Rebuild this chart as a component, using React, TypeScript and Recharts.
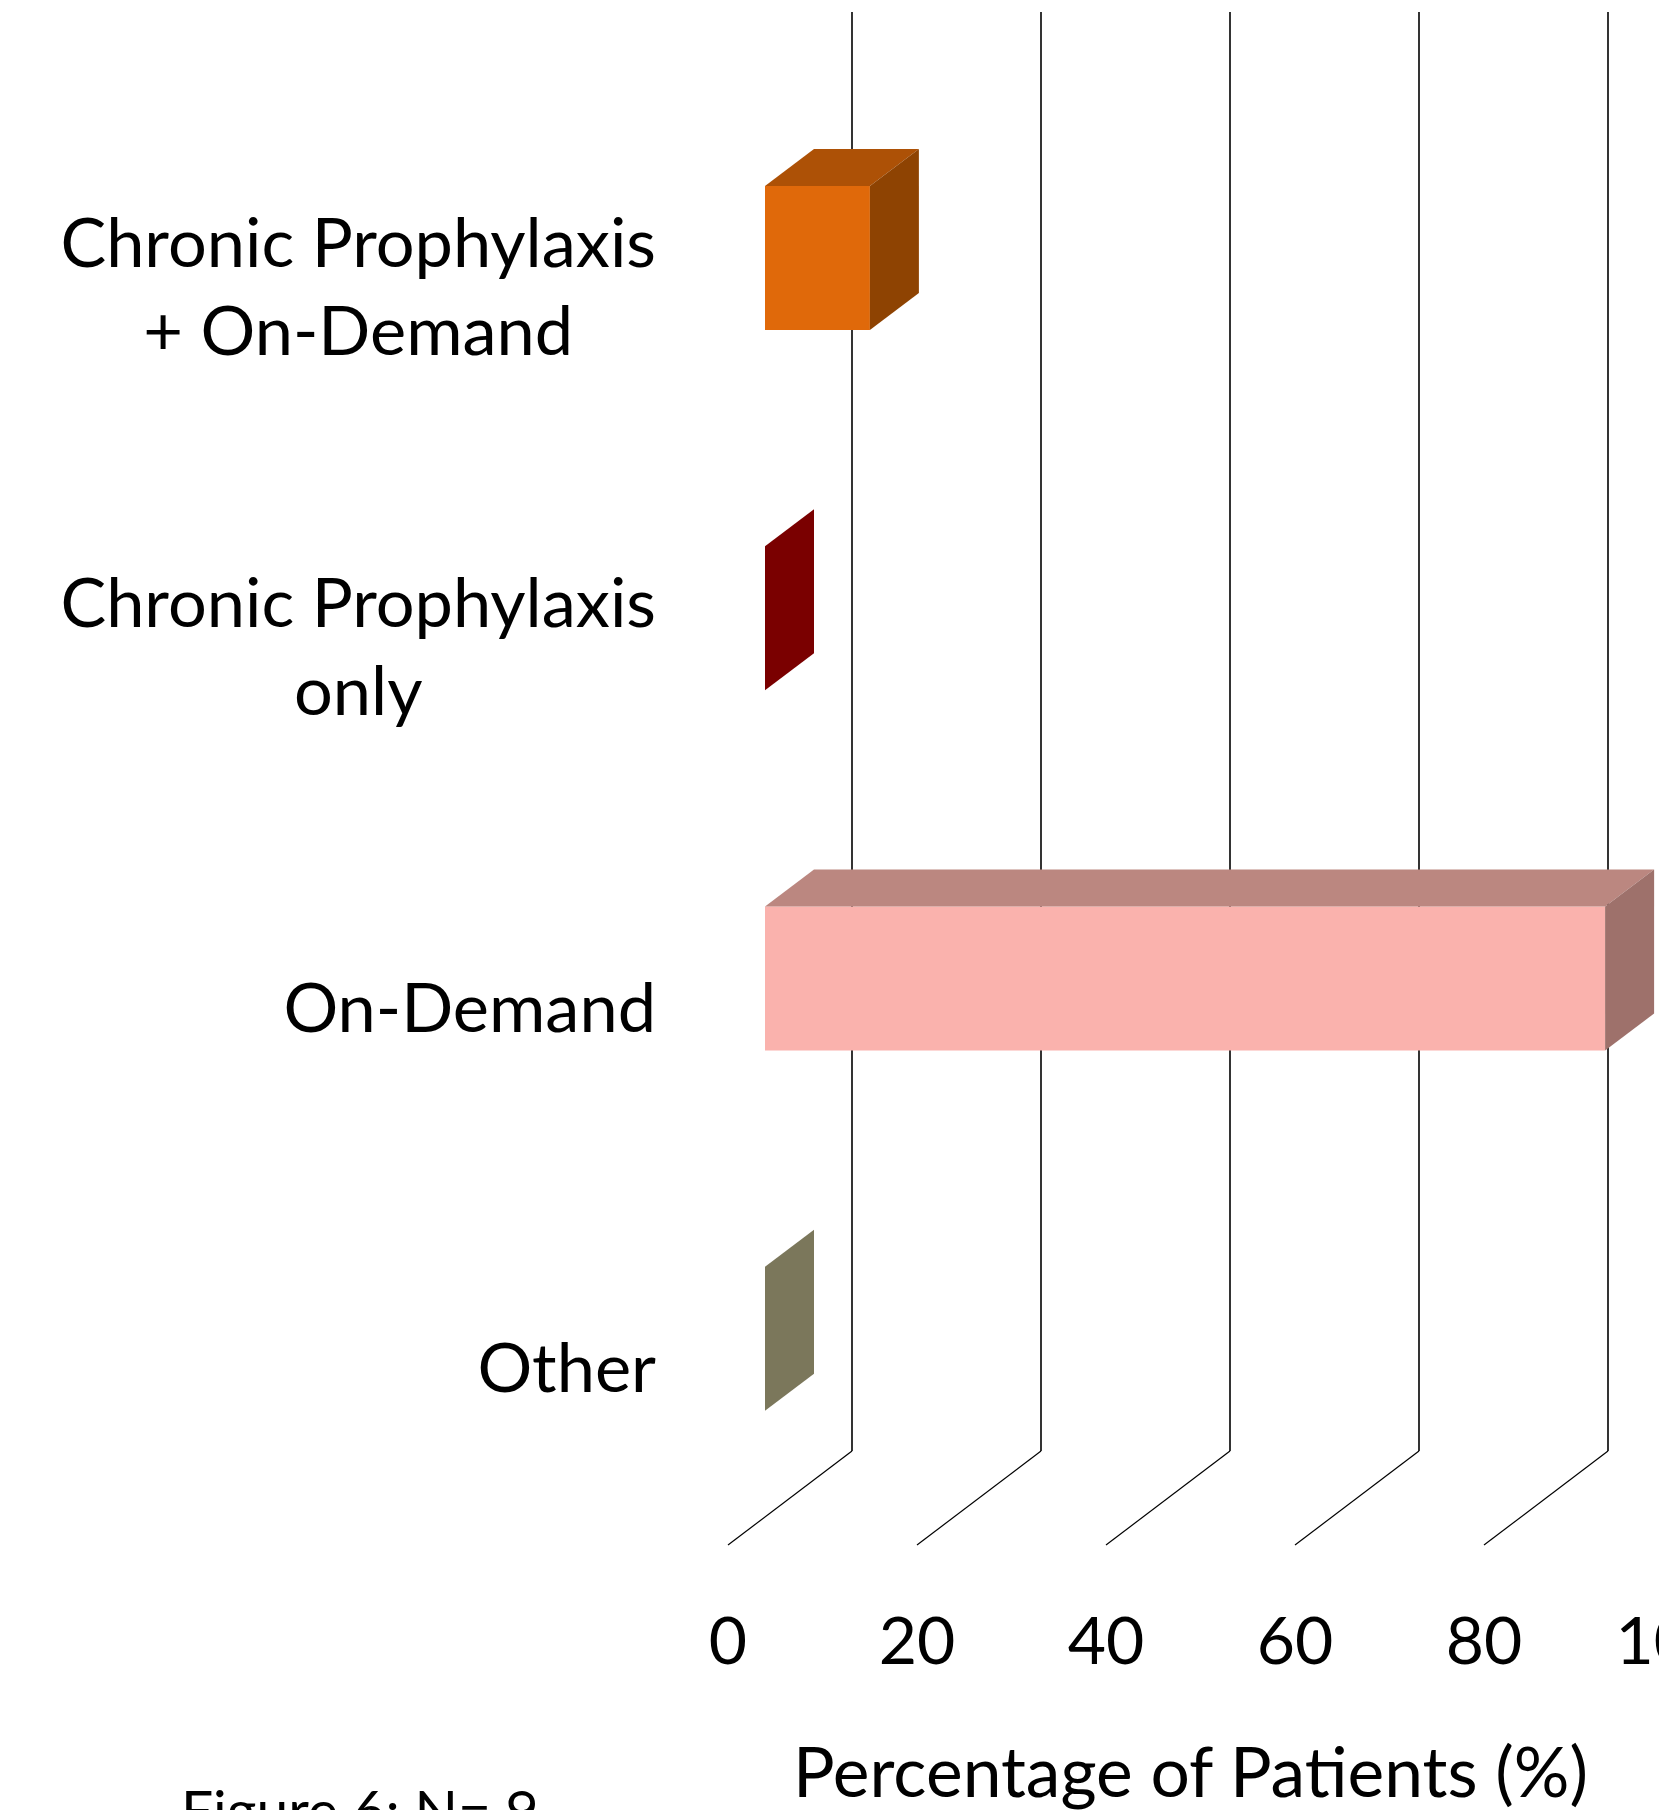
import { Bar, BarChart, CartesianGrid, Label, XAxis, YAxis } from "recharts";

const categories = [
	"Chronic Prophylaxis\n+ On-Demand",
	"Chronic Prophylaxis\nonly",
	"On-Demand",
	"Other",
];
const percentages = [11.1, 0, 88.9, 0];
const xTicks = [0, 20, 40, 60, 80, 100];

const frontColors = ["#E0690A", "#7A0000", "#FAB2AD", "#7B775B"];
const topColors = ["#AD5106", "#5C0000", "#BB8780", "#5C5944"];
const sideColors = ["#8E4302", "#7A0000", "#9E716B", "#7B775B"];

const FONT = "Lato, 'Open Sans', sans-serif";
const LABEL_SIZE = 68.5;
const TITLE_SIZE = 69.5;
const TICK_SIZE = 66;

// bar depth (front face -> back face)
const DEPTH_X = 49;
const DEPTH_Y = -37;
// floor line ends, relative to a tick position at bar-front depth
const FLOOR_FRONT_X = -37;
const FLOOR_FRONT_Y = 26;
const FLOOR_BACK_X = 87;
const FLOOR_BACK_Y = -68;

const data = categories.map((category, i) => ({
	category,
	value: percentages[i],
}));

let ctx: CanvasRenderingContext2D | null = null;
function measure(text: string, size: number) {
	if (!ctx) ctx = document.createElement("canvas").getContext("2d");
	if (!ctx) return text.length * size * 0.5;
	ctx.font = `${size}px Lato`;
	return ctx.measureText(text).width;
}

function Bar3D(props: any) {
	const { x, y, width, height, index } = props;
	const w = Math.max(0, width || 0);
	const side = `${x + w},${y} ${x + w + DEPTH_X},${y + DEPTH_Y} ${x + w + DEPTH_X},${y + height + DEPTH_Y} ${x + w},${y + height}`;
	if (w === 0) {
		return <polygon points={side} fill={frontColors[index]} />;
	}
	const top = `${x},${y} ${x + w},${y} ${x + w + DEPTH_X},${y + DEPTH_Y} ${x + DEPTH_X},${y + DEPTH_Y}`;
	return (
		<g>
			<rect x={x} y={y} width={w} height={height} fill={frontColors[index]} />
			<polygon points={top} fill={topColors[index]} />
			<polygon points={side} fill={sideColors[index]} />
		</g>
	);
}

function CategoryTick(props: any) {
	const { x, y, payload } = props;
	const lines = String(payload.value).split("\n");
	const w = Math.max(...lines.map((l) => measure(l, LABEL_SIZE)));
	const cx = x - w / 2;
	return (
		<g>
			{lines.map((line, i) => (
				<text
					key={i}
					x={cx}
					y={y + 53 + (i - (lines.length - 1) / 2) * 88}
					textAnchor="middle"
					fontSize={LABEL_SIZE}
					fontFamily={FONT}
					fill="#000"
				>
					{line}
				</text>
			))}
		</g>
	);
}

function FloorTick(props: any) {
	const { x, y, payload } = props;
	return (
		<g>
			<line
				x1={x + FLOOR_FRONT_X}
				y1={y + FLOOR_FRONT_Y}
				x2={x + FLOOR_BACK_X}
				y2={y + FLOOR_BACK_Y}
				stroke="#000"
				strokeWidth={1.2}
			/>
			<text
				x={x + FLOOR_FRONT_X}
				y={y + 145}
				textAnchor="middle"
				fontSize={TICK_SIZE}
				fontFamily={FONT}
				fill="#000"
			>
				{payload.value}
			</text>
		</g>
	);
}

function BackWallLine(p: any) {
	return (
		<line
			key={`wall-${p.index}`}
			x1={p.x1 + FLOOR_BACK_X}
			y1={p.y1 - 66}
			x2={p.x1 + FLOOR_BACK_X}
			y2={p.y2 + FLOOR_BACK_Y}
			stroke="#000"
			strokeWidth={1.6}
		/>
	);
}

export default function App() {
	return (
		<div
			style={{
				position: "relative",
				width: 1667,
				height: 1818,
				overflow: "hidden",
				margin: -8,
				background: "#fff",
			}}
		>
			<BarChart
				layout="vertical"
				width={1760}
				height={1818}
				data={data}
				margin={{ top: 78, right: 50, bottom: 199, left: 0 }}
			>
				<CartesianGrid horizontal={false} vertical={BackWallLine} />
				<XAxis
					type="number"
					domain={[0, 100]}
					ticks={xTicks}
					interval={0}
					axisLine={false}
					tickLine={false}
					tickSize={0}
					tickMargin={0}
					height={100}
					tick={<FloorTick />}
				>
					<Label
						content={({ viewBox }: any) => (
							<text
								x={viewBox.x + viewBox.width / 2 - 47}
								y={viewBox.y + 278}
								textAnchor="middle"
								fontSize={TITLE_SIZE}
								fontFamily={FONT}
								fill="#000"
							>
								Percentage of Patients (%)
							</text>
						)}
					/>
				</XAxis>
				<YAxis
					type="category"
					dataKey="category"
					width={765}
					axisLine={false}
					tickLine={false}
					tickSize={0}
					tickMargin={109}
					interval={0}
					tick={<CategoryTick />}
				/>
				<Bar
					dataKey="value"
					barSize={144}
					shape={<Bar3D />}
					isAnimationActive={false}
				/>
			</BarChart>
			<svg
				width={1667}
				height={1818}
				style={{ position: "absolute", left: 0, top: 0, pointerEvents: "none" }}
			>
				<text x={181} y={1831} fontSize={57} fontFamily={FONT} fill="#000">
					Figure 6: N= 9
				</text>
			</svg>
		</div>
	);
}
